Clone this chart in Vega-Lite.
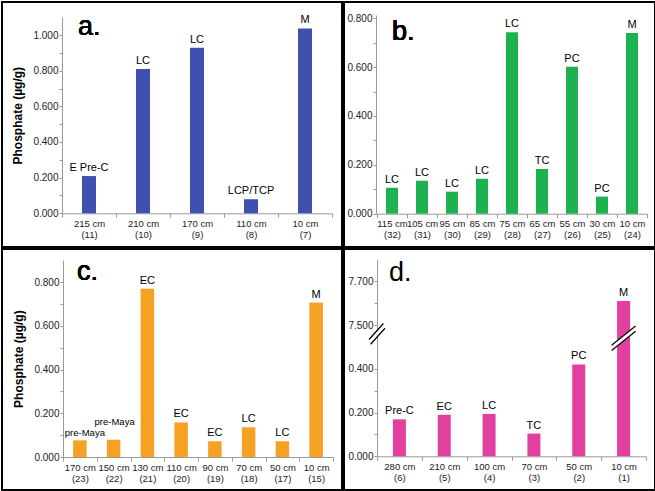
{
  "$schema": "https://vega.github.io/schema/vega-lite/v6.json",
  "background": "white",
  "padding": {"left": 1, "top": 1, "right": 1, "bottom": 1},
  "columns": 2,
  "spacing": 0,
  "config": {
    "font": "Liberation Sans",
    "view": {"stroke": "black", "strokeWidth": 2},
    "concat": {"spacing": 0},
    "axis": {"grid": false, "domainColor": "#9a9a9a", "tickColor": "#9a9a9a", "labelColor": "#222222", "labelFont": "Liberation Sans", "labelOverlap": false},
    "axisX": {"labelFontSize": 9.5},
    "axisY": {"labelFontSize": 10, "tickCount": 30}
  },
  "datasets": {
    "a": [
      {"sample": "215 cm (11)", "value": 0.209, "label": "E Pre-C"},
      {"sample": "210 cm (10)", "value": 0.809, "label": "LC"},
      {"sample": "170 cm (9)", "value": 0.929, "label": "LC"},
      {"sample": "110 cm (8)", "value": 0.079, "label": "LCP/TCP"},
      {"sample": "10 cm (7)", "value": 1.037, "label": "M"}
    ],
    "b": [
      {"sample": "115 cm (32)", "value": 0.106, "label": "LC"},
      {"sample": "105 cm (31)", "value": 0.135, "label": "LC"},
      {"sample": "95 cm (30)", "value": 0.090, "label": "LC"},
      {"sample": "85 cm (29)", "value": 0.143, "label": "LC"},
      {"sample": "75 cm (28)", "value": 0.743, "label": "LC"},
      {"sample": "65 cm (27)", "value": 0.183, "label": "TC"},
      {"sample": "55 cm (26)", "value": 0.602, "label": "PC"},
      {"sample": "30 cm (25)", "value": 0.070, "label": "PC"},
      {"sample": "10 cm (24)", "value": 0.740, "label": "M"}
    ],
    "c": [
      {"sample": "170 cm (23)", "value": 0.076, "label": "pre-Maya"},
      {"sample": "150 cm (22)", "value": 0.079, "label": "pre-Maya"},
      {"sample": "130 cm (21)", "value": 0.770, "label": "EC"},
      {"sample": "110 cm (20)", "value": 0.158, "label": "EC"},
      {"sample": "90 cm (19)", "value": 0.072, "label": "EC"},
      {"sample": "70 cm (18)", "value": 0.136, "label": "LC"},
      {"sample": "50 cm (17)", "value": 0.072, "label": "LC"},
      {"sample": "10 cm (15)", "value": 0.706, "label": "M"}
    ],
    "d": [
      {"sample": "280 cm (6)", "value": 0.169, "label": "Pre-C"},
      {"sample": "210 cm (5)", "value": 0.190, "label": "EC"},
      {"sample": "100 cm (4)", "value": 0.194, "label": "LC"},
      {"sample": "70 cm (3)", "value": 0.104, "label": "TC"},
      {"sample": "50 cm (2)", "value": 0.420, "label": "PC"},
      {"sample": "10 cm (1)", "value": 7.61, "label": "M"}
    ]
  },
  "concat": [
    {
      "width": 340, "height": 245,
      "data": {"name": "a"},
      "layer": [
        {
          "mark": {"type": "bar", "color": "#4050AE", "width": {"band": 0.26}},
          "encoding": {
            "x": {"field": "sample", "type": "nominal", "sort": null,
              "scale": {"range": [60, 330], "paddingInner": 0, "paddingOuter": 0},
              "axis": {"title": null, "labelAngle": 0, "tickBand": "extent", "offset": -33.7, "tickSize": 4, "labelPadding": 1, "labelLineHeight": 11,
                "labelExpr": "[slice(datum.label, 0, indexof(datum.label, ' (')), slice(datum.label, indexof(datum.label, ' (') + 1)]"}},
            "y": {"field": "value", "type": "quantitative",
              "scale": {"domain": [0, 1.1], "range": [211.3, 15.2], "nice": false, "zero": true},
              "axis": {"title": "Phosphate (µg/g)", "titleFontSize": 12, "titleFontWeight": "bold", "titleColor": "black", "titlePadding": 8,
                "offset": -60, "tickSize": 3, "labelPadding": 1,
                "values": [0, 0.1, 0.2, 0.3, 0.4, 0.5, 0.6, 0.7, 0.8, 0.9, 1.0],
                "labelExpr": "round(datum.value * 10) % 2 == 0 ? format(datum.value, '.3f') : ''"}}
          }
        },
        {
          "mark": {"type": "text", "baseline": "alphabetic", "dy": -5, "fontSize": 11, "color": "black"},
          "encoding": {
            "x": {"field": "sample", "type": "nominal", "sort": null},
            "y": {"field": "value", "type": "quantitative"},
            "text": {"field": "label"}
          }
        },
        {
          "mark": {"type": "text", "text": "a.", "align": "left", "baseline": "alphabetic", "dx": -11, "fontSize": 27, "fontWeight": "normal", "color": "black"},
          "encoding": {
            "x": {"datum": "215 cm (11)"},
            "y": {"datum": 1.0, "type": "quantitative"}
          }
        }
      ]
    },
    {
      "width": 311, "height": 245,
      "data": {"name": "b"},
      "layer": [
        {
          "mark": {"type": "bar", "color": "#1DB24E", "width": {"band": 0.4}},
          "encoding": {
            "x": {"field": "sample", "type": "nominal", "sort": null,
              "scale": {"range": [33, 303], "paddingInner": 0, "paddingOuter": 0},
              "axis": {"title": null, "labelAngle": 0, "tickBand": "extent", "offset": -33.3, "tickSize": 4, "labelPadding": 1, "labelLineHeight": 11,
                "labelExpr": "[slice(datum.label, 0, indexof(datum.label, ' (')), slice(datum.label, indexof(datum.label, ' (') + 1)]"}},
            "y": {"field": "value", "type": "quantitative",
              "scale": {"domain": [0, 0.8135], "range": [211.7, 13], "nice": false, "zero": true},
              "axis": {"title": null, "offset": -32, "tickSize": 3, "labelPadding": 1,
                "values": [0, 0.1, 0.2, 0.3, 0.4, 0.5, 0.6, 0.7, 0.8],
                "labelExpr": "round(datum.value * 10) % 2 == 0 ? format(datum.value, '.3f') : ''"}}
          }
        },
        {
          "mark": {"type": "text", "baseline": "alphabetic", "dy": -5, "fontSize": 11, "color": "black"},
          "encoding": {
            "x": {"field": "sample", "type": "nominal", "sort": null},
            "y": {"field": "value", "type": "quantitative"},
            "text": {"field": "label"}
          }
        },
        {
          "mark": {"type": "text", "text": "b.", "align": "left", "baseline": "alphabetic", "dx": 0, "fontSize": 27, "fontWeight": "normal", "color": "black"},
          "encoding": {
            "x": {"datum": "115 cm (32)"},
            "y": {"datum": 0.711, "type": "quantitative"}
          }
        }
      ]
    },
    {
      "width": 340, "height": 241,
      "data": {"name": "c"},
      "layer": [
        {
          "mark": {"type": "bar", "color": "#F7A124", "width": {"band": 0.4}},
          "encoding": {
            "x": {"field": "sample", "type": "nominal", "sort": null,
              "scale": {"range": [61, 331], "paddingInner": 0, "paddingOuter": 0},
              "axis": {"title": null, "labelAngle": 0, "tickBand": "extent", "offset": -33, "tickSize": 4, "labelPadding": 1, "labelLineHeight": 11,
                "labelExpr": "[slice(datum.label, 0, indexof(datum.label, ' (')), slice(datum.label, indexof(datum.label, ' (') + 1)]"}},
            "y": {"field": "value", "type": "quantitative",
              "scale": {"domain": [0, 0.9], "range": [208, 11.2], "nice": false, "zero": true},
              "axis": {"title": "Phosphate (µg/g)", "titleFontSize": 12, "titleFontWeight": "bold", "titleColor": "black", "titlePadding": 8,
                "offset": -61, "tickSize": 3, "labelPadding": 1,
                "values": [0, 0.1, 0.2, 0.3, 0.4, 0.5, 0.6, 0.7, 0.8],
                "labelExpr": "round(datum.value * 10) % 2 == 0 ? format(datum.value, '.3f') : ''"}}
          }
        },
        {
          "transform": [{"filter": "datum.label != 'pre-Maya'"}],
          "mark": {"type": "text", "baseline": "alphabetic", "dy": -5, "fontSize": 11, "color": "black"},
          "encoding": {
            "x": {"field": "sample", "type": "nominal", "sort": null},
            "y": {"field": "value", "type": "quantitative"},
            "text": {"field": "label"}
          }
        },
        {
          "transform": [{"filter": "datum.sample == '170 cm (23)'"}],
          "mark": {"type": "text", "baseline": "alphabetic", "dy": -4, "dx": 5, "fontSize": 9.5, "color": "black"},
          "encoding": {
            "x": {"field": "sample", "type": "nominal", "sort": null},
            "y": {"field": "value", "type": "quantitative"},
            "text": {"field": "label"}
          }
        },
        {
          "transform": [{"filter": "datum.sample == '150 cm (22)'"}],
          "mark": {"type": "text", "baseline": "alphabetic", "dy": -15, "dx": 1, "fontSize": 9.5, "color": "black"},
          "encoding": {
            "x": {"field": "sample", "type": "nominal", "sort": null},
            "y": {"field": "value", "type": "quantitative"},
            "text": {"field": "label"}
          }
        },
        {
          "mark": {"type": "text", "text": "c.", "align": "left", "baseline": "alphabetic", "dx": -3, "fontSize": 27, "fontWeight": "normal", "color": "black"},
          "encoding": {
            "x": {"datum": "170 cm (23)"},
            "y": {"datum": 0.809, "type": "quantitative"}
          }
        }
      ]
    },
    {
      "width": 311, "height": 241,
      "data": {"name": "d"},
      "layer": [
        {
          "mark": {"type": "bar", "color": "#E2409E", "width": {"band": 0.29}},
          "encoding": {
            "x": {"field": "sample", "type": "nominal", "sort": null,
              "scale": {"range": [33, 302], "paddingInner": 0, "paddingOuter": 0},
              "axis": {"title": null, "labelAngle": 0, "tickBand": "extent", "offset": -33.7, "tickSize": 4, "labelPadding": 1, "labelLineHeight": 11,
                "labelExpr": "[slice(datum.label, 0, indexof(datum.label, ' (')), slice(datum.label, indexof(datum.label, ' (') + 1)]"}},
            "y": {"field": "value", "type": "quantitative",
              "scale": {"domain": [0, 0.5, 7.4, 7.8], "range": [207.3, 98, 98, 10.5], "nice": false, "zero": true},
              "axis": {"title": null, "offset": -33, "tickSize": 3, "labelPadding": 1,
                "values": [0, 0.1, 0.2, 0.3, 0.4, 7.5, 7.6, 7.7],
                "labelExpr": "(round(datum.value * 10) % 2 == 0) == (datum.value < 1) ? format(datum.value, '.3f') : ''"}}
          }
        },
        {
          "mark": {"type": "text", "baseline": "alphabetic", "dy": -5, "fontSize": 11, "color": "black"},
          "encoding": {
            "x": {"field": "sample", "type": "nominal", "sort": null},
            "y": {"field": "value", "type": "quantitative"},
            "text": {"field": "label"}
          }
        },
        {
          "data": {"values": [{"sample": "10 cm (1)", "value": 7.44}]},
          "mark": {"type": "point", "shape": "M-1,0.58L1,-1.02L1,-0.58L-1,1.02Z", "filled": true, "color": "white", "opacity": 1, "strokeWidth": 0, "size": 576},
          "encoding": {
            "x": {"field": "sample", "type": "nominal", "sort": null},
            "y": {"field": "value", "type": "quantitative"}
          }
        },
        {
          "data": {"values": [{"sample": "10 cm (1)", "value": 7.44}]},
          "mark": {"type": "point", "shape": "M-1,0.58L1,-1.02M-1,1.02L1,-0.58", "filled": false, "color": "black", "opacity": 1, "strokeWidth": 1.2, "size": 576},
          "encoding": {
            "x": {"field": "sample", "type": "nominal", "sort": null},
            "y": {"field": "value", "type": "quantitative"}
          }
        },
        {
          "data": {"values": [{"sample": "280 cm (6)", "value": 7.46}]},
          "mark": {"type": "point", "shape": "M-1,0.7L0.8,-1.3L1,-0.7L-0.8,1.3Z", "filled": true, "color": "white", "opacity": 1, "strokeWidth": 0, "size": 256},
          "encoding": {
            "x": {"field": "sample", "type": "nominal", "sort": null, "bandPosition": 0},
            "y": {"field": "value", "type": "quantitative"}
          }
        },
        {
          "data": {"values": [{"sample": "280 cm (6)", "value": 7.46}]},
          "mark": {"type": "point", "shape": "M-1,0.7L0.8,-1.3M-0.8,1.3L1,-0.7", "filled": false, "color": "black", "opacity": 1, "strokeWidth": 1.2, "size": 256},
          "encoding": {
            "x": {"field": "sample", "type": "nominal", "sort": null, "bandPosition": 0},
            "y": {"field": "value", "type": "quantitative"}
          }
        },
        {
          "data": {"values": [{"sample": "280 cm (6)", "value": 7.70}]},
          "mark": {"type": "text", "text": "d.", "align": "left", "baseline": "alphabetic", "dx": -10.5, "fontSize": 27, "fontWeight": "normal", "color": "black"},
          "encoding": {
            "x": {"field": "sample", "type": "nominal", "sort": null},
            "y": {"field": "value", "type": "quantitative"}
          }
        }
      ]
    }
  ]
}
